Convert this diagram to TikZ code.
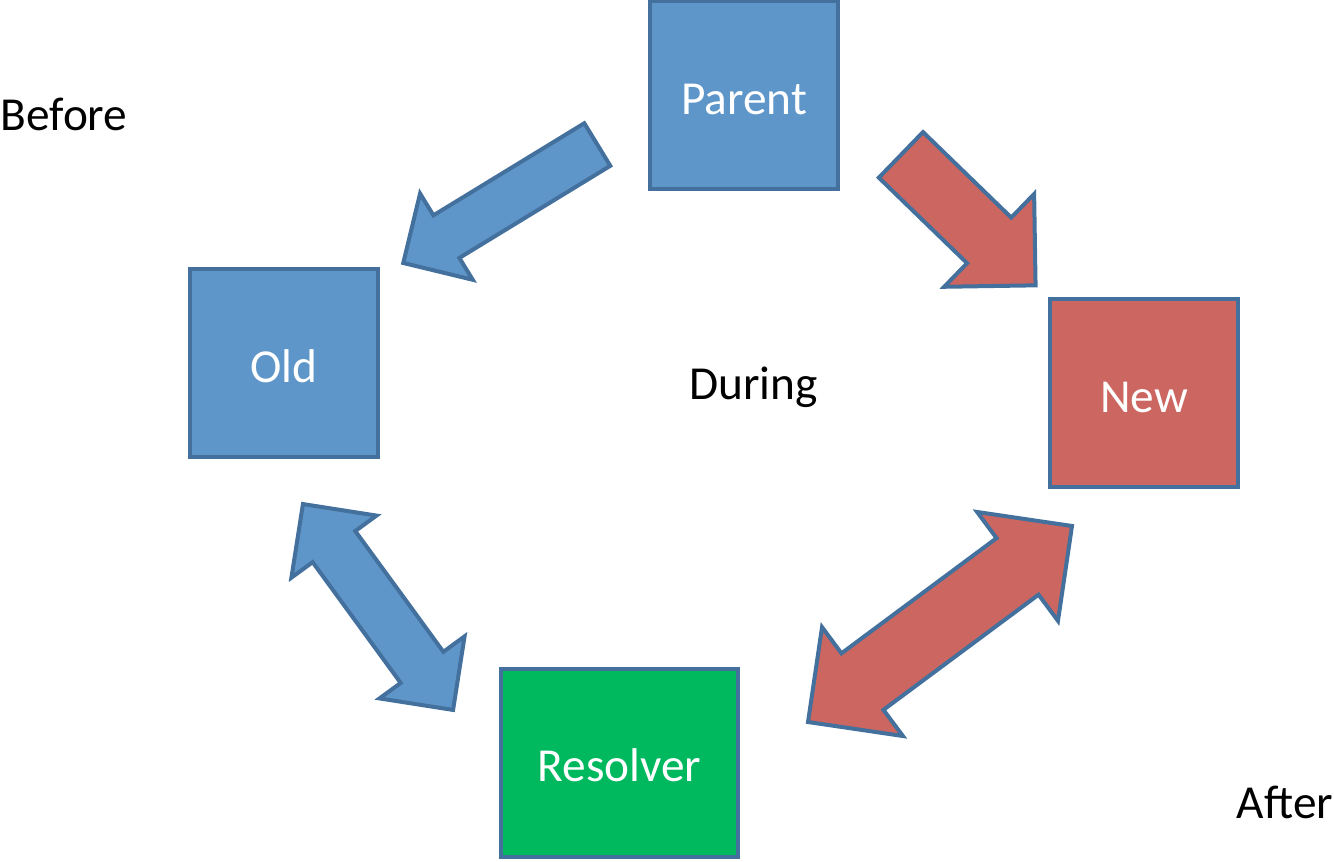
\documentclass[tikz,border=0pt]{standalone}
\usepackage{fontspec}
\setmainfont{Carlito}
\usetikzlibrary{shapes.arrows}
\definecolor{boxblue}{HTML}{5F96C9}
\definecolor{boxred}{HTML}{CC6660}
\definecolor{boxgreen}{HTML}{00B85E}
\definecolor{edgeblue}{HTML}{44709E}
\begin{document}
\begin{tikzpicture}[x=0.75pt, y=-0.75pt,
    every node/.style={font=\fontsize{35.5}{42}\selectfont},
    box/.style={draw=edgeblue, line width=3pt, minimum size=141pt, inner sep=0pt, text height=28.6pt, text depth=0pt, text=white},
    onearrow/.style={single arrow, draw=edgeblue, line width=3pt, single arrow tip angle=90, inner xsep=0pt, anchor=tail},
    twoarrow/.style={double arrow, draw=edgeblue, line width=3pt, double arrow tip angle=90, inner xsep=0pt}]
    \useasboundingbox (0,0) rectangle (1334,862);

    \node[box, fill=boxblue] (parent) at (744,95.5) {Parent};
    \node[box, fill=boxblue] (old) at (284,363) {Old};
    \node[box, fill=boxred] (new) at (1144,393) {New};
    \node[box, fill=boxgreen, minimum width=178pt] (resolver) at (619.5,762.5) {Resolver};

    \node[onearrow, fill=boxblue, minimum height=170.5pt, minimum width=72.8pt, inner ysep=17.2pt, single arrow head extend=19.2pt, rotate=211.4] (parenttoold) at (599,143.5) {};
    \node[onearrow, fill=boxred, minimum height=140.6pt, minimum width=93.9pt, inner ysep=22.3pt, single arrow head extend=24.65pt, rotate=-44.1] (parenttonew) at (899.5,153.5) {};
    \node[twoarrow, fill=boxblue, minimum height=191.1pt, minimum width=76pt, inner ysep=18.3pt, double arrow head extend=19.7pt, rotate=-53.9] (oldresolver) at (378,607) {};
    \node[twoarrow, fill=boxred, minimum height=246.6pt, minimum width=98.7pt, inner ysep=24.9pt, double arrow head extend=24.45pt, rotate=36.6] (newresolver) at (940,624) {};

    \node[anchor=base] (before) at (64,131) {Before};
    \node[anchor=base] (during) at (753.5,400) {During};
    \node[anchor=base] (after) at (1285,818) {After};
\end{tikzpicture}
\end{document}
